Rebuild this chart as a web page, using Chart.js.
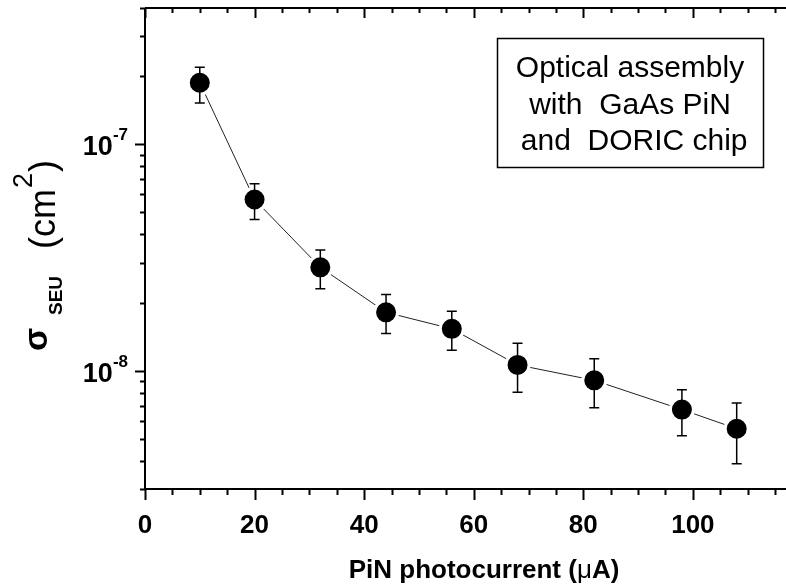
<!DOCTYPE html>
<html><head><meta charset="utf-8">
<script src="https://cdn.jsdelivr.net/npm/chart.js@4/dist/chart.umd.min.js"></script>
<style>html,body{margin:0;padding:0;background:#fff}</style>
</head><body>
<canvas id="c" width="786" height="588"></canvas>
<script>
// ---- data ----
const photocurrent = [10, 20, 32, 44, 56, 68, 82, 98, 108];
const sigmaSEU     = [1.87e-7, 5.70e-8, 2.86e-8, 1.81e-8, 1.53e-8, 1.06e-8, 9.06e-9, 6.73e-9, 5.54e-9];
const sigmaUpper   = [2.19e-7, 6.70e-8, 3.41e-8, 2.17e-8, 1.83e-8, 1.32e-8, 1.13e-8, 8.24e-9, 7.20e-9];
const sigmaLower   = [1.52e-7, 4.65e-8, 2.30e-8, 1.46e-8, 1.23e-8, 8.02e-9, 6.86e-9, 5.16e-9, 3.88e-9];

const xMajorTicks = [0, 20, 40, 60, 80, 100];
const xMinorTicks = [5, 10, 15, 25, 30, 35, 45, 50, 55, 65, 70, 75, 85, 90, 95, 105, 110, 115];
const yMajorTicks = [1e-8, 1e-7];
const yMajorExponents = ['-8', '-7'];
const yMinorTicks = [3e-9, 4e-9, 5e-9, 6e-9, 7e-9, 8e-9, 9e-9, 2e-8, 3e-8, 4e-8, 5e-8, 6e-8, 7e-8, 8e-8, 9e-8, 2e-7, 3e-7, 4e-7];
const annotationLines = ['Optical assembly', 'with  GaAs PiN', ' and  DORIC chip'];
const xTitleParts = [['PiN photocurrent (', true], ['\u03BC', false], ['A)', true]];

const FONT = '"Liberation Sans", Arial, sans-serif';

const decor = {
  id: 'decor',
  afterDatasetsDraw(chart) {
    const ctx = chart.ctx, xs = chart.scales.x, ys = chart.scales.y;
    ctx.save();
    ctx.strokeStyle = '#000';
    ctx.lineWidth = 1.5;
    photocurrent.forEach((xv, i) => {
      const px = xs.getPixelForValue(xv);
      const pt = ys.getPixelForValue(sigmaUpper[i]);
      const pb = ys.getPixelForValue(sigmaLower[i]);
      ctx.beginPath();
      ctx.moveTo(px, pt); ctx.lineTo(px, pb);
      ctx.moveTo(px - 5, pt); ctx.lineTo(px + 5, pt);
      ctx.moveTo(px - 5, pb); ctx.lineTo(px + 5, pb);
      ctx.stroke();
    });
    ctx.restore();
  },
  afterDraw(chart) {
    const ctx = chart.ctx, xs = chart.scales.x, ys = chart.scales.y, a = chart.chartArea;
    ctx.save();
    ctx.strokeStyle = '#000';
    ctx.fillStyle = '#000';
    ctx.lineWidth = 2;
    // frame
    ctx.beginPath();
    ctx.moveTo(a.left, a.top); ctx.lineTo(a.left, a.bottom); ctx.lineTo(a.right, a.bottom);
    ctx.moveTo(a.left, a.top); ctx.lineTo(a.right, a.top);
    ctx.stroke();
    // x ticks (bottom outward, top inward)
    ctx.beginPath();
    xMajorTicks.forEach(v => {
      const p = Math.round(xs.getPixelForValue(v)) + 0.5;
      ctx.moveTo(p, a.bottom); ctx.lineTo(p, a.bottom + 11);
      ctx.moveTo(p, a.top); ctx.lineTo(p, a.top + 10);
    });
    xMinorTicks.forEach(v => {
      const p = Math.round(xs.getPixelForValue(v)) + 0.5;
      ctx.moveTo(p, a.bottom); ctx.lineTo(p, a.bottom + 6);
      ctx.moveTo(p, a.top); ctx.lineTo(p, a.top + 5);
    });
    // y ticks (left outward)
    yMajorTicks.forEach(v => {
      const p = Math.round(ys.getPixelForValue(v)) + 0.5;
      ctx.moveTo(a.left, p); ctx.lineTo(a.left - 10, p);
    });
    yMinorTicks.forEach(v => {
      const p = Math.round(ys.getPixelForValue(v)) + 0.5;
      ctx.moveTo(a.left, p); ctx.lineTo(a.left - 5, p);
    });
    ctx.stroke();

    // x tick labels
    ctx.font = 'bold 26px ' + FONT;
    ctx.textAlign = 'center';
    ctx.textBaseline = 'alphabetic';
    xMajorTicks.forEach(v => {
      ctx.fillText(String(v), xs.getPixelForValue(v), a.bottom + 44);
    });
    // y tick labels 10^n
    yMajorTicks.forEach((v, i) => {
      const p = ys.getPixelForValue(v);
      ctx.font = 'bold 17px ' + FONT;
      ctx.textAlign = 'right';
      const ew = ctx.measureText(yMajorExponents[i]).width;
      ctx.fillText(yMajorExponents[i], 128, p - 4);
      ctx.font = 'bold 27px ' + FONT;
      ctx.fillText('10', 128 - ew, p + 11);
    });
    // x title (mu in regular weight)
    ctx.textAlign = 'left';
    let total = 0;
    xTitleParts.forEach(([t, b]) => { ctx.font = (b ? 'bold ' : '') + '26px ' + FONT; total += ctx.measureText(t).width; });
    let xx = 484 - total / 2;
    xTitleParts.forEach(([t, b]) => {
      ctx.font = (b ? 'bold ' : '') + '26px ' + FONT;
      ctx.fillText(t, xx, 578);
      xx += ctx.measureText(t).width;
    });

    // y title (rotated)
    ctx.save();
    ctx.translate(47, 351); ctx.rotate(-Math.PI / 2);
    ctx.font = 'bold 34px ' + FONT;
    ctx.fillText('\u03C3', 0, 0);
    ctx.restore();
    ctx.save();
    ctx.translate(62, 315); ctx.rotate(-Math.PI / 2);
    ctx.font = 'bold 19px ' + FONT;
    ctx.fillText('SEU', 0, 0);
    ctx.restore();
    ctx.save();
    ctx.translate(55, 249); ctx.rotate(-Math.PI / 2);
    ctx.font = '36px ' + FONT;
    let w = 0;
    ctx.fillText('(cm', 0, 0); w += ctx.measureText('(cm').width;
    ctx.font = '27px ' + FONT;
    ctx.fillText('2', w + 1, -23); w += ctx.measureText('2').width + 2;
    ctx.font = '36px ' + FONT;
    ctx.fillText(')', w, 0);
    ctx.restore();

    // annotation box
    ctx.lineWidth = 1.5;
    ctx.strokeRect(497.5, 38.5, 266, 129);
    ctx.font = '30px ' + FONT;
    ctx.textAlign = 'center';
    annotationLines.forEach((t, i) => {
      ctx.fillText(t, 630, 77 + i * 36.5);
    });
    ctx.restore();
  }
};

new Chart(document.getElementById('c'), {
  type: 'scatter',
  data: {
    datasets: [{
      data: photocurrent.map((x, i) => ({ x: x, y: sigmaSEU[i] })),
      showLine: true,
      borderColor: '#222',
      borderWidth: 1,
      pointRadius: 11.5,
      pointBackgroundColor: '#000',
      pointBorderColor: '#fff',
      pointBorderWidth: 3,
      clip: false
    }]
  },
  options: {
    responsive: false,
    animation: false,
    devicePixelRatio: 1,
    events: [],
    layout: { autoPadding: false, padding: { left: 145, top: 8, right: 0, bottom: 99 } },
    plugins: { legend: { display: false }, tooltip: { enabled: false } },
    scales: {
      x: { type: 'linear', min: 0, max: 117, display: false },
      y: { type: 'logarithmic', min: 3e-9, max: 4e-7, display: false }
    }
  },
  plugins: [decor]
});
</script>
</body></html>
